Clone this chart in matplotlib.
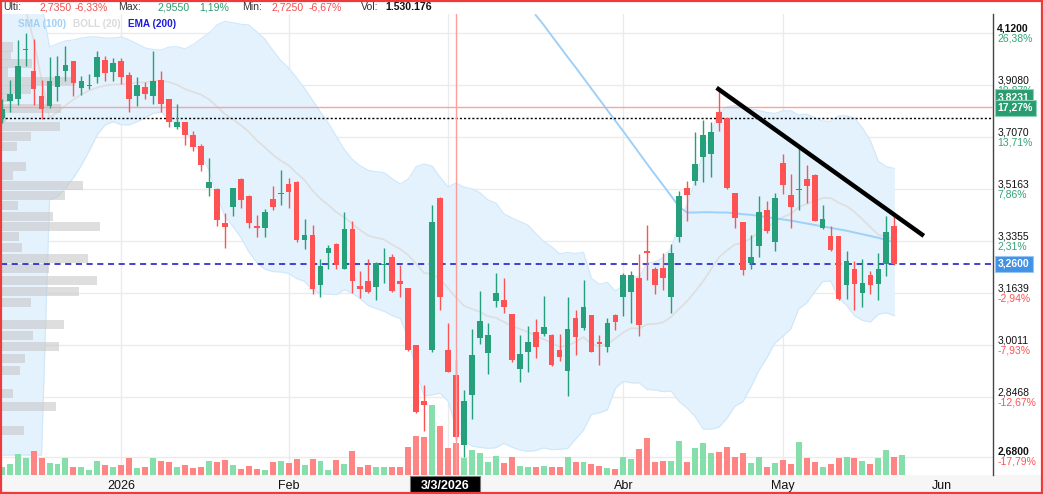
import numpy as np
import pandas as pd
import matplotlib
matplotlib.use('Agg')
import matplotlib.pyplot as plt
import matplotlib.transforms as mtransforms
from matplotlib.patches import Rectangle
from matplotlib.ticker import NullLocator

plt.rcParams['font.family'] = ['Liberation Sans', 'DejaVu Sans']

# trading calendar (BME holidays)
holidays = ['2025-12-25', '2025-12-26', '2026-01-01', '2026-04-03', '2026-04-06', '2026-05-01']
dates = pd.bdate_range('2025-12-09', '2026-06-30', freq='C', holidays=holidays)

# daily OHLC, 2025-12-09 .. 2026-05-22
opens = [3.779, 3.846, 3.852, 4.050, 3.967, 3.864, 3.825, 3.903, 3.965, 4.004,
         3.896, 3.905, 3.940, 4.008, 3.962, 4.004, 3.947, 3.865, 3.900, 3.865,
         3.927, 3.852, 3.745, 3.765, 3.714, 3.673, 3.522, 3.517, 3.399, 3.453,
         3.554, 3.493, 3.389, 3.380, 3.483, 3.498, 3.536, 3.543, 3.340, 3.357,
         3.191, 3.297, 3.327, 3.244, 3.378, 3.188, 3.202, 3.183, 3.255, 3.283,
         3.202, 3.180, 3.001, 2.836, 2.987, 3.486, 2.986, 2.910, 2.711, 2.852,
         3.022, 2.976, 3.138, 3.143, 3.096, 2.930, 2.981, 3.041, 3.036, 3.033,
         2.986, 2.922, 3.085, 3.053, 3.093, 3.010, 2.996, 3.093, 3.153, 3.166,
         3.212, 3.304, 3.244, 3.246, 3.153, 3.348, 3.520, 3.547, 3.633, 3.643,
         3.805, 3.779, 3.502, 3.401, 3.263, 3.318, 3.444, 3.334, 3.612, 3.497,
         3.512, 3.554, 3.569, 3.381, 3.352, 3.352, 3.189, 3.244, 3.164, 3.222,
         3.193, 3.259, 3.389]
highs = [3.852, 3.928, 4.093, 4.120, 4.097, 3.927, 4.023, 4.025, 4.066, 4.006,
         3.944, 3.954, 4.046, 4.028, 4.017, 4.017, 3.962, 3.940, 3.920, 4.046,
         3.967, 3.853, 3.833, 3.766, 3.730, 3.680, 3.631, 3.522, 3.432, 3.521,
         3.555, 3.494, 3.424, 3.448, 3.529, 3.584, 3.557, 3.544, 3.413, 3.392,
         3.274, 3.323, 3.328, 3.436, 3.406, 3.237, 3.277, 3.264, 3.312, 3.293,
         3.257, 3.181, 3.002, 2.883, 3.462, 3.487, 3.069, 2.955, 2.866, 3.051,
         3.171, 3.069, 3.228, 3.212, 3.097, 3.033, 3.061, 3.083, 3.156, 3.034,
         3.036, 3.151, 3.111, 3.208, 3.094, 3.033, 3.085, 3.096, 3.230, 3.237,
         3.293, 3.392, 3.249, 3.296, 3.326, 3.511, 3.547, 3.728, 3.772, 3.766,
         3.891, 3.781, 3.503, 3.402, 3.357, 3.492, 3.476, 3.502, 3.643, 3.571,
         3.671, 3.603, 3.570, 3.462, 3.386, 3.353, 3.304, 3.268, 3.276, 3.237,
         3.296, 3.423, 3.424]
lows = [3.762, 3.805, 3.831, 3.985, 3.831, 3.775, 3.818, 3.846, 3.924, 3.865,
        3.869, 3.895, 3.917, 3.924, 3.924, 3.913, 3.803, 3.825, 3.852, 3.833,
        3.805, 3.745, 3.740, 3.677, 3.655, 3.581, 3.491, 3.386, 3.312, 3.422,
        3.450, 3.381, 3.348, 3.348, 3.442, 3.460, 3.450, 3.331, 3.310, 3.161,
        3.150, 3.241, 3.241, 3.241, 3.164, 3.148, 3.164, 3.141, 3.198, 3.166,
        3.150, 2.983, 2.801, 2.749, 2.979, 3.109, 2.919, 2.725, 2.678, 2.785,
        3.006, 2.915, 3.119, 3.101, 2.949, 2.890, 2.919, 2.962, 3.030, 2.939,
        2.952, 2.849, 2.970, 3.048, 2.979, 2.940, 2.980, 3.048, 3.090, 3.069,
        3.030, 3.208, 3.162, 3.174, 3.101, 3.332, 3.404, 3.530, 3.542, 3.559,
        3.730, 3.517, 3.381, 3.224, 3.244, 3.282, 3.363, 3.301, 3.500, 3.381,
        3.442, 3.468, 3.403, 3.378, 3.304, 3.143, 3.145, 3.110, 3.120, 3.161,
        3.141, 3.218, 3.255]
closes = [3.816, 3.872, 3.984, 4.054, 3.895, 3.814, 3.923, 3.943, 3.988, 3.916,
          3.923, 3.908, 4.021, 3.958, 3.996, 3.940, 3.852, 3.908, 3.874, 3.923,
          3.833, 3.765, 3.766, 3.714, 3.670, 3.604, 3.543, 3.407, 3.383, 3.520,
          3.477, 3.396, 3.380, 3.437, 3.453, 3.502, 3.505, 3.340, 3.357, 3.178,
          3.254, 3.314, 3.257, 3.378, 3.202, 3.178, 3.167, 3.263, 3.258, 3.171,
          3.193, 2.986, 2.803, 2.823, 3.402, 3.153, 2.920, 2.735, 2.836, 2.972,
          3.077, 3.033, 3.165, 3.119, 2.957, 2.975, 3.010, 2.996, 3.058, 2.942,
          2.964, 3.051, 3.027, 3.120, 2.981, 3.004, 3.069, 3.072, 3.222, 3.222,
          3.062, 3.295, 3.189, 3.214, 3.296, 3.491, 3.494, 3.609, 3.717, 3.728,
          3.762, 3.522, 3.415, 3.239, 3.283, 3.436, 3.369, 3.485, 3.532, 3.453,
          3.517, 3.529, 3.406, 3.413, 3.307, 3.146, 3.270, 3.193, 3.197, 3.189,
          3.244, 3.368, 3.260]

# volume in thousands of shares (last value: session without candle yet)
volume_k = [400, 516, 999, 806, 1158, 806, 565, 516, 806, 400,
            400, 241, 676, 483, 372, 483, 806, 323, 400, 806,
            676, 613, 372, 483, 323, 400, 676, 613, 724, 483,
            290, 434, 290, 227, 613, 676, 579, 772, 483, 772,
            676, 227, 724, 516, 1158, 372, 483, 400, 372, 400,
            400, 1366, 1897, 1849, 3379, 2380, 1289, 1530, 806, 1207,
            1047, 613, 932, 565, 854, 449, 400, 400, 449, 372,
            372, 883, 642, 613, 545, 449, 352, 304, 883, 758,
            1241, 1800, 613, 690, 690, 1656, 642, 1289, 1530, 1047,
            1096, 1337, 854, 1047, 565, 883, 372, 565, 724, 516,
            1607, 835, 613, 400, 516, 835, 883, 806, 690, 516,
            835, 1207, 883, 965]

# Bollinger (20) for the first 19 sessions (history not available)
boll_up_early = [4.25, 4.25, 4.25, 4.25, 4.25, 4.25, 4.063, 4.076, 4.088, 4.092,
                 4.100, 4.105, 4.105, 4.100, 4.100, 4.105, 4.092, 4.076, 4.059]
boll_mid_early = [np.nan, np.nan, np.nan, 4.22, 4.092, 3.931, 3.781, 3.804, 3.828, 3.852,
                  3.872, 3.887, 3.899, 3.907, 3.911, 3.911, 3.915, 3.919, 3.919]
boll_low_early = [2.684, 2.684, 2.684, 2.684, 2.684, 2.684, 3.478, 3.489, 3.521, 3.557,
                  3.603, 3.657, 3.717, 3.754, 3.766, 3.754, 3.754, 3.766, 3.781]

# SMA (100), visible from session 67 on
sma100_start = 67
sma100 = [4.197, 4.155, 4.110, 4.066, 4.022, 3.980, 3.937, 3.894, 3.852, 3.810,
          3.769, 3.729, 3.688, 3.647, 3.607, 3.568, 3.530, 3.492, 3.454, 3.434,
          3.434, 3.435, 3.435, 3.434, 3.434, 3.431, 3.428, 3.426, 3.422, 3.418,
          3.414, 3.410, 3.406, 3.401, 3.396, 3.391, 3.386, 3.381, 3.376, 3.371,
          3.365, 3.359, 3.353, 3.347, 3.339, 3.331]

# volume profile (left side)
profile_price = [4.063, 4.027, 3.995, 3.961, 3.923, 3.891, 3.860, 3.818, 3.783, 3.746,
                 3.709, 3.674, 3.599, 3.564, 3.531, 3.493, 3.458, 3.420, 3.386, 3.352,
                 3.315, 3.278, 3.245, 3.206, 3.170, 3.135, 3.064, 3.030, 2.996, 2.961,
                 2.926, 2.857, 2.820, 2.752]
profile_vol = [12, 10, 31, 7, 74, 30, 10, 60, 5, 59, 30, 16, 25, 12, 82, 64, 17, 52, 99, 18,
               21, 87, 48, 96, 78, 30, 63, 32, 58, 24, 19, 12, 55, 23]

price_ticks = [4.1200, 3.9080, 3.7070, 3.5163, 3.3355, 3.1639, 3.0011, 2.8468, 2.6800]
pct_labels = ['26,38%', '19,87%', '13,71%', '7,86%', '2,31%', '-2,94%', '-7,93%', '-12,67%', '-17,79%']

last_price = 3.2600
alert_price = 3.8231
alert_pct = '17,27%'
support_price = 3.781
cross_idx = 57  # 3/3/2026
trend_idx = [89.7, 115.7]
trend_price = [3.898, 3.3535]

month_names = {1: '2026', 2: 'Feb', 3: 'Mar', 4: 'Abr', 5: 'May', 6: 'Jun'}

header = [('Ulti:', '#333333', 'normal', 3), ('2,7350', '#f0504f', 'normal', 39),
          ('-6,33%', '#f0504f', 'normal', 75), ('Max:', '#333333', 'normal', 118),
          ('2,9550', '#2b9c6c', 'normal', 157), ('1,19%', '#2b9c6c', 'normal', 199),
          ('Min:', '#333333', 'normal', 242), ('2,7250', '#f0504f', 'normal', 272),
          ('-6,67%', '#f0504f', 'normal', 309), ('Vol:', '#333333', 'normal', 361),
          ('1.530.176', '#111111', 'bold', 385)]
legend = [('SMA (100)', '#9fd0f7', 18), ('BOLL (20)', '#dadada', 73), ('EMA (200)', '#1c1ce0', 128)]

GREEN = '#26a07a'
RED = '#ff5252'
VGREEN = '#86dfaa'
VRED = '#ff8585'
AXIS_FONT = ['Liberation Sans Narrow', 'Liberation Sans', 'DejaVu Sans']

W, H = 1043, 494
fig = plt.figure(figsize=(W / 100, H / 100), dpi=100)
ax = fig.add_axes([1 / W, (H - 475) / H, 992 / W, 461 / H])
ax.set_yscale('log')
ax.set_xlim(-0.088, 124.38)
ax.set_ylim(2.6301, 4.2015)
ax.yaxis.set_major_locator(NullLocator())
ax.yaxis.set_minor_locator(NullLocator())
ax.set_xticks([])
for s in ['top', 'left', 'bottom']:
    ax.spines[s].set_visible(False)
ax.spines['right'].set_color('#444444')
ax.spines['right'].set_linewidth(1)

n = len(closes)
idx = np.arange(n)
o = np.array(opens)
h = np.array(highs)
l = np.array(lows)
c = np.array(closes)

# grid
for p in price_ticks:
    ax.axhline(p, color='#ebebeb', lw=1, zorder=0)
month_first = [i for i in range(1, len(dates)) if dates[i].month != dates[i - 1].month]
for i in month_first:
    if i < n:
        ax.axvline(i, color='#ebebeb', lw=1, zorder=0)

# bollinger bands
cs = pd.Series(closes)
mid = cs.rolling(20).mean()
sd = cs.rolling(20).std()
up = (mid + 2 * sd).to_numpy()
lo = (mid - 2 * sd).to_numpy()
mid = mid.to_numpy()
k = len(boll_up_early)
up[:k] = boll_up_early
lo[:k] = boll_low_early
mid[:k] = boll_mid_early
ax.fill_between(idx, lo, up, color='#e3f2fd', lw=0, zorder=1)
ax.plot(idx, up, color='#cfe7fa', lw=0.8, zorder=1)
ax.plot(idx, lo, color='#cfe7fa', lw=0.8, zorder=1)
ax.plot(idx, mid, color='#dedede', lw=1.2, zorder=2)

# volume profile
ptrans = mtransforms.blended_transform_factory(ax.transAxes, ax.transData)
pv = np.array(profile_vol, dtype=float)
pp = np.array(profile_price)
ax.barh(pp, pv / pv.max() * (99 / 992), height=pp * 0.0092, left=0,
        color='#c8c8c8', alpha=0.6, transform=ptrans, zorder=2)

# volume bars
vtrans = mtransforms.blended_transform_factory(ax.transData, ax.transAxes)
vol = np.array(volume_k) * 1000.0
vcol = [VGREEN if (i >= n or c[i] >= o[i]) else VRED for i in range(len(vol))]
ax.bar(np.arange(len(vol)), vol / 22.25e6, width=0.75, bottom=0, color=vcol,
       transform=vtrans, zorder=3)

# sma 100
ax.plot(np.arange(sma100_start, sma100_start + len(sma100)), sma100,
        color='#9fd0f7', lw=1.4, zorder=3)

# candles
up_day = c >= o
ccol = np.where(up_day, GREEN, RED)
body_lo = np.minimum(o, c)
body_h = np.maximum(np.abs(c - o), c * 0.0015)
ax.vlines(idx, l, h, colors=ccol, lw=1, zorder=4)
ax.bar(idx, body_h, bottom=body_lo, width=0.72, color=ccol, zorder=5)

# horizontal markers
ax.axhline(alert_price, color='#f6a5a5', lw=1, zorder=3)
ax.axhline(support_price, color='black', lw=1, ls=(0, (1.5, 1.5)), zorder=3)
ax.axhline(last_price, color='#1010c8', lw=1.1, ls=(0, (4, 3)), zorder=3)
ax.axvline(cross_idx, color='#ff9d9d', lw=1, zorder=6)

# trendline
ax.plot(trend_idx, trend_price, color='black', lw=3.2, solid_capstyle='butt', zorder=7)

# right price axis labels
ytr = ax.get_yaxis_transform()
for j, (p, pct) in enumerate(zip(price_ticks, pct_labels)):
    fw = 'bold' if j in (0, len(price_ticks) - 1) else 'normal'
    ax.annotate(f'{p:.4f}'.replace('.', ','), xy=(1, p), xycoords=ytr, xytext=(3, 3.6),
                textcoords='offset points', ha='left', va='center', fontsize=7.5,
                color='#111111', fontweight=fw, annotation_clip=False)
    ax.annotate(pct, xy=(1, p), xycoords=ytr, xytext=(3, -3.6),
                textcoords='offset points', ha='left', va='center', fontsize=7.5,
                color=RED if pct.startswith('-') else '#2fa674', annotation_clip=False)

ax.annotate(f'{alert_price:.4f}'.replace('.', ','), xy=(1, alert_price), xycoords=ytr,
            xytext=(3.5, 7.0), textcoords='offset points', ha='left', va='center',
            fontsize=7.5, color='white', fontweight='bold', annotation_clip=False, zorder=10,
            bbox=dict(boxstyle='square,pad=0.3', fc='#2a9d70', ec='#8fd3b8', lw=0.8))
ax.annotate(alert_pct, xy=(1, alert_price), xycoords=ytr,
            xytext=(3.5, -0.8), textcoords='offset points', ha='left', va='center',
            fontsize=7.5, color='white', fontweight='bold', annotation_clip=False, zorder=10,
            bbox=dict(boxstyle='square,pad=0.3', fc='#2a9d70', ec='#8fd3b8', lw=0.8))
ax.annotate(f'{last_price:.4f}'.replace('.', ','), xy=(1, last_price), xycoords=ytr,
            xytext=(3.5, 0), textcoords='offset points', ha='left', va='center',
            fontsize=7.5, color='white', fontweight='bold', annotation_clip=False, zorder=10,
            bbox=dict(boxstyle='square,pad=0.3', fc='#4292e6', ec='#9cc6f2', lw=0.8))

# bottom date strip (drawn below the axes so the labels stay visible)
fig.patches.append(Rectangle((0, 2 / H), 1, 17 / H, transform=fig.transFigure,
                             color='#f6f6f6', zorder=-1))
for i in month_first:
    m = dates[i].month
    if m == 3:
        continue
    ax.annotate(month_names[m], xy=(i, 0), xycoords=vtrans, xytext=(0, -7.6),
                textcoords='offset points', ha='center', va='center', fontsize=9,
                family=AXIS_FONT, color='#111111', annotation_clip=False)

# crosshair date box
box_l, box_r = cross_idx - 5.75, cross_idx + 3.0
ax.add_patch(Rectangle((box_l, -0.0026), box_r - box_l, -0.034, transform=vtrans,
                       facecolor='black', edgecolor='#777777', lw=0.8, clip_on=False,
                       zorder=10))
ax.annotate(dates[cross_idx].strftime('%-m/%-d/%Y'), xy=((box_l + box_r) / 2, 0),
            xycoords=vtrans, xytext=(0, -7.6), textcoords='offset points',
            ha='center', va='center', fontsize=9, family=AXIS_FONT, color='white',
            fontweight='bold', annotation_clip=False, zorder=11)

# header and indicator legend
for txt, col, fw, xpx in header:
    fig.text(xpx / W, 1 - 7.5 / H, txt, color=col, fontweight=fw, fontsize=7.6,
             ha='left', va='center')
for txt, col, xpx in legend:
    fig.text(xpx / W, 1 - 24 / H, txt, color=col, fontweight='bold', fontsize=7.2,
             ha='left', va='center')

# outer frame
fig.patches.append(Rectangle((0.0008, 0.0015), 0.9984, 0.997, transform=fig.transFigure,
                             fill=False, edgecolor='#ee3a3a', lw=1.6, zorder=20))

fig.savefig('out.png', dpi=100)
